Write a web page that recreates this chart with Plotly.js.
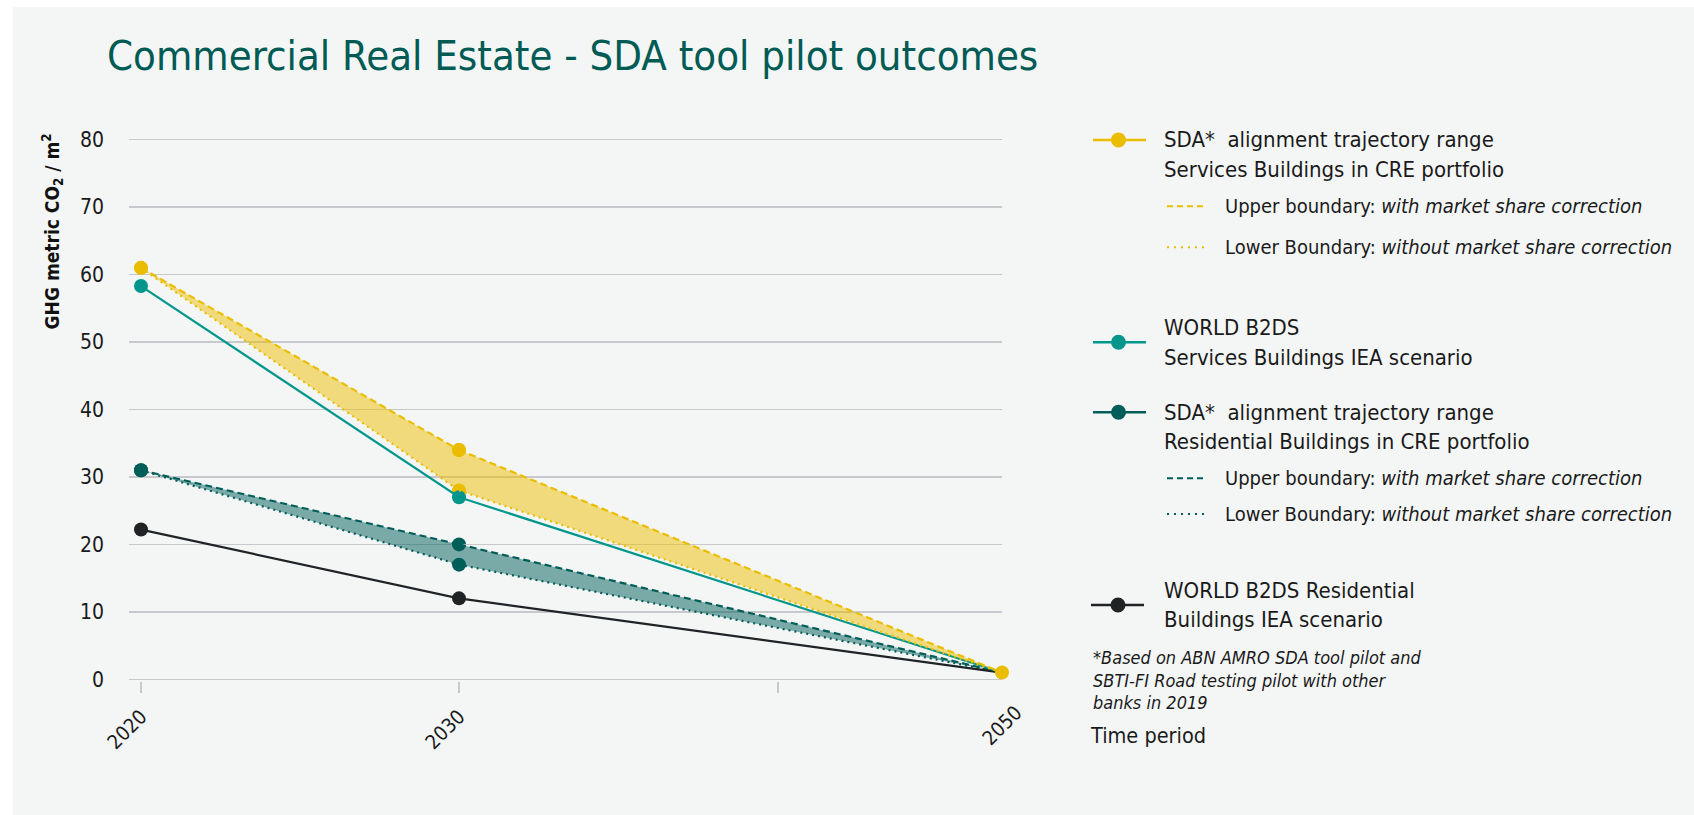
<!DOCTYPE html>
<html>
<head>
<meta charset="utf-8">
<script src="https://cdn.plot.ly/plotly-3.0.1.min.js"></script>
<style>
  html, body { margin: 0; padding: 0; background: #ffffff; }
  #chart { position: absolute; left: 13px; top: 7px; width: 1681px; height: 808px; }
</style>
</head>
<body>
<div id="chart"></div>
<script>
// ---------------- DATA ----------------
const years = [2020, 2030, 2050];
const xTickLabels = ['2020', '2030', '2050'];
const servicesUpper = [61, 34, 1];      // SDA services, with market share correction
const servicesLower = [61, 28, 1];      // SDA services, without market share correction
const servicesIEA = [58.3, 27, 1];      // WORLD B2DS services buildings
const residentialUpper = [31, 20, 1];   // SDA residential, with market share correction
const residentialLower = [31, 17, 1];   // SDA residential, without market share correction
const residentialIEA = [22.2, 12, 1];   // WORLD B2DS residential buildings
const yTicks = [0, 10, 20, 30, 40, 50, 60, 70, 80];

// ---------------- STYLE ----------------
const F = "'DejaVu Sans Condensed', 'DejaVu Sans', sans-serif";
const YEL = '#ebbd00', TEAL = '#00968b', DTEAL = '#005e59', BLK = '#1f2326';
const YEL_FILL = 'rgba(235,189,0,0.5)', DTEAL_FILL = 'rgba(0,94,89,0.5)';
const GRID = '#c8c9cc', TXT = '#1a1a1a';
const BREAK = 2030;

function seg(values, which) {
  const idx = years.map((_, i) => i).filter(i => which === 0 ? years[i] <= BREAK : years[i] >= BREAK);
  return { x: idx.map(i => years[i]), y: idx.map(i => values[i]) };
}
function tr(values, which, color, dash, markers, fill, fillcolor) {
  const s = seg(values, which);
  const t = {
    type: 'scatter', x: s.x, y: s.y, xaxis: which === 0 ? 'x' : 'x2', yaxis: 'y',
    mode: markers ? 'lines+markers' : 'lines',
    line: { color: color, width: 2.2, dash: dash },
    marker: { color: color, size: 14, line: { width: 0 } },
    cliponaxis: false, hoverinfo: 'skip', showlegend: false
  };
  if (fill) { t.fill = 'tonexty'; t.fillcolor = fillcolor; }
  return t;
}
const DASH = '7px,4px', DOT = '2px,4px';
const traces = [];
// first segment 2020-2030
traces.push(tr(residentialLower, 0, DTEAL, DOT, true));
traces.push(tr(residentialUpper, 0, DTEAL, DASH, true, true, DTEAL_FILL));
traces.push(tr(residentialIEA, 0, BLK, 'solid', true));
traces.push(tr(servicesLower, 0, YEL, DOT, true));
traces.push(tr(servicesUpper, 0, YEL, DASH, true, true, YEL_FILL));
traces.push(tr(servicesIEA, 0, TEAL, 'solid', true));
// second segment 2030-2050
traces.push(tr(residentialLower, 1, DTEAL, DOT, false));
traces.push(tr(residentialUpper, 1, DTEAL, DASH, false, true, DTEAL_FILL));
traces.push(tr(residentialIEA, 1, BLK, 'solid', false));
traces.push(tr(servicesIEA, 1, TEAL, 'solid', false));
traces.push(tr(servicesLower, 1, YEL, DOT, false));
traces.push(tr(servicesUpper, 1, YEL, DASH, true, true, YEL_FILL));

// ---------------- LAYOUT HELPERS (page pixel -> paper) ----------------
const PL = 129, PR = 1002, PT = 137.6, PB = 681;
const X = x => (x - PL) / (PR - PL);
const Y = y => (PB - y) / (PB - PT);

const shapes = [];
const annotations = [];
function legendSymbol(cy, color, x0, x1, cx) {
  shapes.push({ type: 'line', xref: 'paper', yref: 'paper', x0: X(x0), x1: X(x1), y0: Y(cy), y1: Y(cy),
    line: { color: color, width: 2.5 } });
  const r = 7.5;
  shapes.push({ type: 'circle', xref: 'paper', yref: 'paper', x0: X(cx - r), x1: X(cx + r), y0: Y(cy + r), y1: Y(cy - r),
    fillcolor: color, line: { width: 0 } });
}
function subSymbol(cy, color, dash) {
  shapes.push({ type: 'line', xref: 'paper', yref: 'paper', x0: X(1167), x1: X(1207), y0: Y(cy), y1: Y(cy),
    line: { color: color, width: 2, dash: dash } });
}
function txt(x, y, text, size, extra) {
  annotations.push(Object.assign({ xref: 'paper', yref: 'paper', x: X(x), y: Y(y), text: text, showarrow: false,
    xanchor: 'left', yanchor: 'middle', align: 'left', borderpad: 0,
    font: { family: F, size: size, color: TXT } }, extra || {}));
}

// Legend: services SDA
legendSymbol(139.5, YEL, 1093, 1146, 1118.5);
txt(1163, 139, 'SDA*  alignment trajectory range', 22);
txt(1163, 169, 'Services Buildings in CRE portfolio', 22);
subSymbol(206, YEL, '6px,4px');
txt(1224, 206, 'Upper boundary: <i>with market share correction</i>', 20);
subSymbol(247, YEL, '2px,5px');
txt(1224, 247, 'Lower Boundary: <i>without market share correction</i>', 20);
// Legend: world services
legendSymbol(342, TEAL, 1093, 1146, 1118.5);
txt(1163, 327, 'WORLD B2DS', 22);
txt(1163, 357, 'Services Buildings IEA scenario', 22);
// Legend: residential SDA
legendSymbol(412, DTEAL, 1093, 1146, 1118.5);
txt(1163, 412, 'SDA*  alignment trajectory range', 22);
txt(1163, 441, 'Residential Buildings in CRE portfolio', 22);
subSymbol(478, DTEAL, '6px,4px');
txt(1224, 478, 'Upper boundary: <i>with market share correction</i>', 20);
subSymbol(514, DTEAL, '2px,5px');
txt(1224, 514, 'Lower Boundary: <i>without market share correction</i>', 20);
// Legend: world residential
legendSymbol(605, BLK, 1091, 1144, 1118);
txt(1163, 590, 'WORLD B2DS Residential', 22);
txt(1163, 619, 'Buildings IEA scenario', 22);
// Footnote
txt(1092, 657, '<i>*Based on ABN AMRO SDA tool pilot and</i>', 18);
txt(1092, 680, '<i>SBTI-FI Road testing pilot with other</i>', 18);
txt(1092, 703, '<i>banks in 2019</i>', 18);
// x-axis title
txt(1089, 736, 'Time period', 21.5);
// y-axis title
annotations.push({ xref: 'paper', yref: 'paper', x: X(52), y: Y(132), textangle: -90, showarrow: false,
  xanchor: 'center', yanchor: 'top', borderpad: 0,
  text: '<b>GHG metric CO<sub>2</sub> / m<sup>2</sup></b>', font: { family: F, size: 19, color: '#111' } });

const xTickFont = { family: F, size: 20, color: TXT };
const layout = {
  width: 1681, height: 808,
  margin: { l: 116, r: 692, t: 130.6, b: 134 },
  paper_bgcolor: '#f4f6f6', plot_bgcolor: '#f4f6f6',
  showlegend: false,
  title: { text: 'Commercial Real Estate - SDA tool pilot outcomes',
    font: { family: F, size: 41.5, color: '#005b55' },
    xref: 'container', yref: 'container', x: (107 - 13) / 1681, xanchor: 'left',
    y: 1 - (55 - 7) / 808, yanchor: 'middle' },
  xaxis: {
    domain: [0, (459 - PL) / (PR - PL)], range: [2020 - 12 / 31.8, 2030],
    tickmode: 'array', tickvals: years.filter(y => y <= BREAK), ticktext: xTickLabels.slice(0, 2),
    ticks: 'outside', ticklen: 11, tickwidth: 1.5, tickcolor: GRID, tickangle: -45,
    ticklabelstandoff: 4,
    showgrid: false, zeroline: false, showline: false, tickfont: xTickFont, fixedrange: true
  },
  xaxis2: {
    domain: [(459 - PL) / (PR - PL), 1], range: [2030, 2050], anchor: 'y',
    tickmode: 'array', tickvals: [years[2]], ticktext: [xTickLabels[2]],
    ticks: '', tickangle: -45, ticklabelstandoff: 15, ticklabelshift: 14,
    minor: { tickmode: 'array', tickvals: [2041.75], ticks: 'outside', ticklen: 11, tickwidth: 1.5, tickcolor: GRID, showgrid: false },
    showgrid: false, zeroline: false, showline: false, tickfont: xTickFont, fixedrange: true
  },
  yaxis: {
    range: [-0.25, 80.25], tickmode: 'array', tickvals: yTicks, ticks: '',
    ticklabelstandoff: 24,
    showgrid: true, gridcolor: GRID, gridwidth: 1.5, zeroline: false, showline: false,
    tickfont: { family: F, size: 21, color: TXT }, fixedrange: true
  },
  shapes: shapes,
  annotations: annotations
};
Plotly.newPlot('chart', traces, layout, { displayModeBar: false, staticPlot: true });
</script>
</body>
</html>
